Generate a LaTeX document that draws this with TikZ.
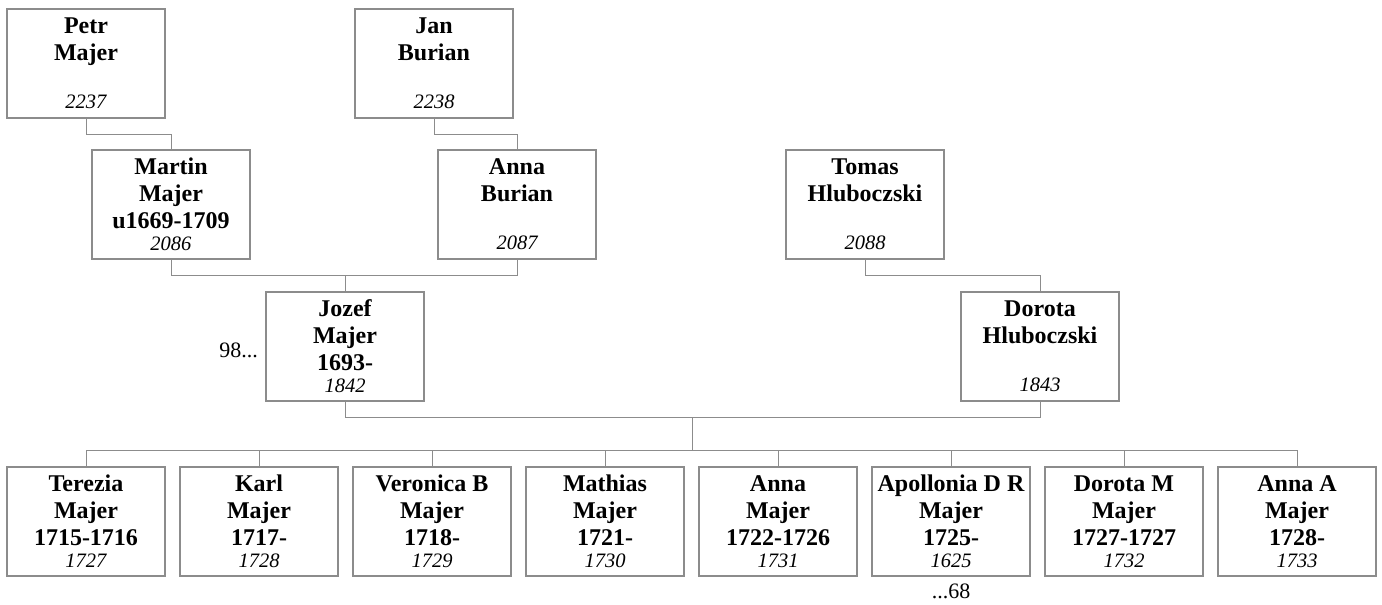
\documentclass[tikz,border=0pt]{standalone}
\usepackage{fontspec}
\setmainfont{Liberation Serif}
\usetikzlibrary{calc}
\definecolor{boxgray}{HTML}{8C8C8C}
\definecolor{linegray}{HTML}{8C8C8C}
\tikzset{
  person/.style={draw=boxgray, line width=1.2pt, inner sep=0pt, outer sep=0pt, anchor=north west},
  link/.style={draw=linegray, line width=1pt},
  note/.style={font=\fontsize{22}{24}\selectfont, inner sep=0pt},
}
\newcommand\personbox[2]{\parbox[c][109pt][s]{158pt}{\centering\fontsize{24}{27}\selectfont\bfseries\rule{0pt}{24pt}#1\par\vfill{\fontsize{20.5}{22}\selectfont\mdseries\itshape #2\par}\vspace*{9pt}}}
\begin{document}
\begin{tikzpicture}[x=1pt,y=-1pt]
\useasboundingbox (0,0) rectangle (1382,605);
% generation 1
\node[person] (petr) at (7,9) {\personbox{Petr\\Majer}{2237}};
\node[person] (jan) at (355,9) {\personbox{Jan\\Burian}{2238}};
% generation 2
\node[person] (martin) at (92,150) {\personbox{Martin\\Majer\\u1669-1709}{2086}};
\node[person] (anna) at (438,150) {\personbox{Anna\\Burian}{2087}};
\node[person] (tomas) at (786,150) {\personbox{Tomas\\Hluboczski}{2088}};
% generation 3
\node[person] (jozef) at (266,292) {\personbox{Jozef\\Majer\\1693-}{1842}};
\node[person] (dorota) at (961,292) {\personbox{Dorota\\Hluboczski}{1843}};
% children
\node[person] (c1) at (7,467) {\personbox{Terezia\\Majer\\1715-1716}{1727}};
\node[person] (c2) at (180,467) {\personbox{Karl\\Majer\\1717-}{1728}};
\node[person] (c3) at (353,467) {\personbox{Veronica B\\Majer\\1718-}{1729}};
\node[person] (c4) at (526,467) {\personbox{Mathias\\Majer\\1721-}{1730}};
\node[person] (c5) at (699,467) {\personbox{Anna\\Majer\\1722-1726}{1731}};
\node[person] (c6) at (872,467) {\personbox{Apollonia D R\\Majer\\1725-}{1625}};
\node[person] (c7) at (1045,467) {\personbox{Dorota M\\Majer\\1727-1727}{1732}};
\node[person] (c8) at (1218,467) {\personbox{Anna A\\Majer\\1728-}{1733}};
% notes
\node[note, anchor=base east] (n98) at ([xshift=-8pt,yshift=-10.5pt]jozef.west) {98...};
\node[note, anchor=base] (n68) at ([yshift=-22pt]c6.south) {...68};
% connectors
\draw[link] (petr.south) -- ++(0,16) -| (martin.north);
\draw[link] (jan.south) -- ++(0,16) -| (anna.north);
\draw[link] (martin.south) -- ++(0,16) -| (anna.south);
\draw[link] (jozef.north) -- ++(0,-17);
\draw[link] (tomas.south) -- ++(0,16) -| (dorota.north);
\draw[link] (jozef.south) -- ++(0,16) -| (dorota.south);
\coordinate (fam) at ($(jozef.south)!0.5!(dorota.south)+(0,16)$);
\draw[link] (fam) -- ++(0,33);
\draw[link] (c1.north) -- ++(0,-17) -| (c8.north);
\foreach \c in {c2,c3,c4,c5,c6,c7} \draw[link] (\c.north) -- ++(0,-17);
\end{tikzpicture}
\end{document}
